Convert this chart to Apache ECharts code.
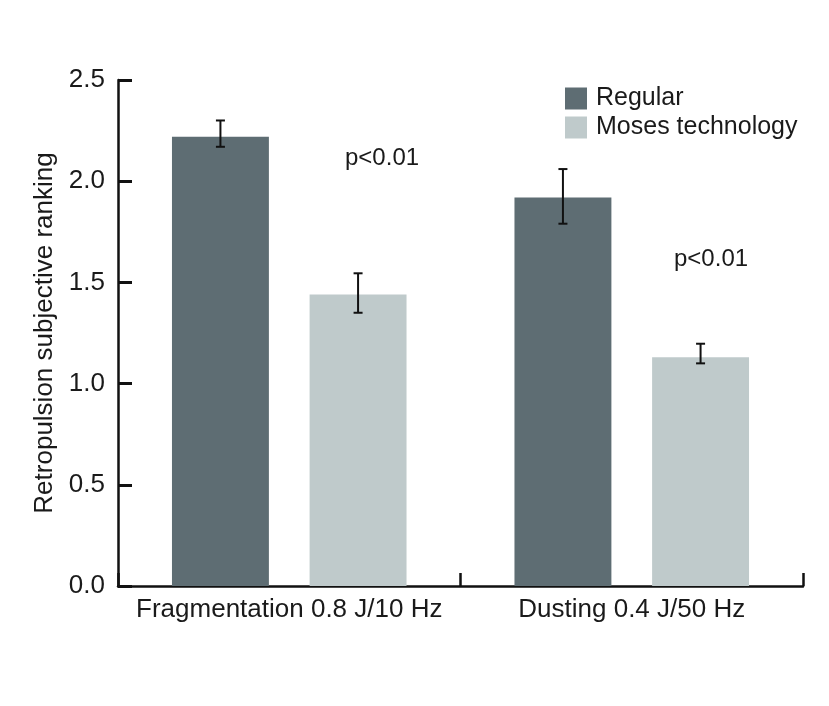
<!DOCTYPE html>
<html>
<head>
<meta charset="utf-8">
<script src="https://cdn.jsdelivr.net/npm/echarts@6/dist/echarts.min.js"></script>
<style>html,body{margin:0;padding:0;background:#fff;}#c{width:829px;height:706px;}</style>
</head>
<body>
<div id="c"></div>
<script>
const categories = ['Fragmentation 0.8 J/10 Hz', 'Dusting 0.4 J/50 Hz'];
const seriesNames = ['Regular', 'Moses technology'];
const regular = [2.22, 1.92];
const regularErrLow = [2.17, 1.79];
const regularErrHigh = [2.30, 2.06];
const moses = [1.44, 1.13];
const mosesErrLow = [1.35, 1.10];
const mosesErrHigh = [1.545, 1.197];
const yTicks = [0, 0.5, 1.0, 1.5, 2.0, 2.5];
const pTexts = ['p<0.01', 'p<0.01'];

const BAR_W = 0.283, BAR_GAP = 0.42;
const FONT = '"Liberation Sans", Arial, Helvetica, sans-serif';
const TXT = '#1a1a1a';

function errData(lo, hi) { return lo.map((v, i) => [i, v, hi[i]]); }
function errRender(sign) {
  return function (params, api) {
    const cat = api.value(0);
    const lo = api.coord([cat, api.value(1)]);
    const hi = api.coord([cat, api.value(2)]);
    const band = api.size([1, 0])[0];
    const bw = band * BAR_W;
    const gap = bw * BAR_GAP;
    const x = lo[0] + sign * (bw + gap) / 2;
    const cap = 4.5;
    const st = { stroke: '#111', lineWidth: 2 };
    return { type: 'group', children: [
      { type: 'line', shape: { x1: x, y1: lo[1], x2: x, y2: hi[1] }, style: st },
      { type: 'line', shape: { x1: x - cap, y1: lo[1], x2: x + cap, y2: lo[1] }, style: st },
      { type: 'line', shape: { x1: x - cap, y1: hi[1], x2: x + cap, y2: hi[1] }, style: st }
    ]};
  };
}

const chart = echarts.init(document.getElementById('c'));
chart.setOption({
  backgroundColor: '#fff',
  animation: false,
  textStyle: { fontFamily: FONT },
  grid: { left: 118, right: 26, top: 80, bottom: 120, containLabel: false },
  legend: {
    orient: 'vertical', left: 560, top: 81, itemWidth: 22, itemHeight: 22, itemGap: 4,
    icon: 'rect', data: seriesNames,
    textStyle: { fontSize: 25, color: TXT, fontFamily: FONT, padding: [0, 0, 0, 4] }
  },
  xAxis: {
    type: 'category', data: categories,
    axisLine: { lineStyle: { color: '#111', width: 2.5 } },
    axisTick: { show: true, interval: 0, inside: true, length: 13, lineStyle: { color: '#111', width: 2.5 } },
    axisLabel: { interval: 0, fontSize: 26, color: TXT, margin: 11, fontFamily: FONT },
    splitLine: { show: false }
  },
  yAxis: {
    type: 'value', min: 0, max: 2.5, interval: 0.5,
    name: 'Retropulsion subjective ranking', nameLocation: 'middle', nameGap: 60,
    nameTextStyle: { fontSize: 26, color: TXT, fontFamily: FONT },
    axisLine: { show: true, lineStyle: { color: '#111', width: 2.5 } },
    axisTick: { show: true, inside: true, length: 14, lineStyle: { color: '#111', width: 3 } },
    axisLabel: { fontSize: 26, color: TXT, margin: 13, fontFamily: FONT,
      formatter: v => yTicks.includes(v) ? v.toFixed(1) : '' },
    splitLine: { show: false }
  },
  series: [
    { name: seriesNames[0], type: 'bar', data: regular, barWidth: (BAR_W * 100) + '%', barGap: (BAR_GAP * 100) + '%',
      itemStyle: { color: '#5e6d73' } },
    { name: seriesNames[1], type: 'bar', data: moses, barWidth: (BAR_W * 100) + '%', barGap: (BAR_GAP * 100) + '%',
      itemStyle: { color: '#bfcacb' } },
    { type: 'custom', renderItem: errRender(-1), data: errData(regularErrLow, regularErrHigh), z: 5, silent: true },
    { type: 'custom', renderItem: errRender(1), data: errData(mosesErrLow, mosesErrHigh), z: 5, silent: true }
  ],
  graphic: [
    { type: 'text', left: 345, top: 146, style: { text: pTexts[0], font: '24px ' + FONT, fill: TXT } },
    { type: 'text', left: 674, top: 247, style: { text: pTexts[1], font: '24px ' + FONT, fill: TXT } }
  ]
});
</script>
</body>
</html>
